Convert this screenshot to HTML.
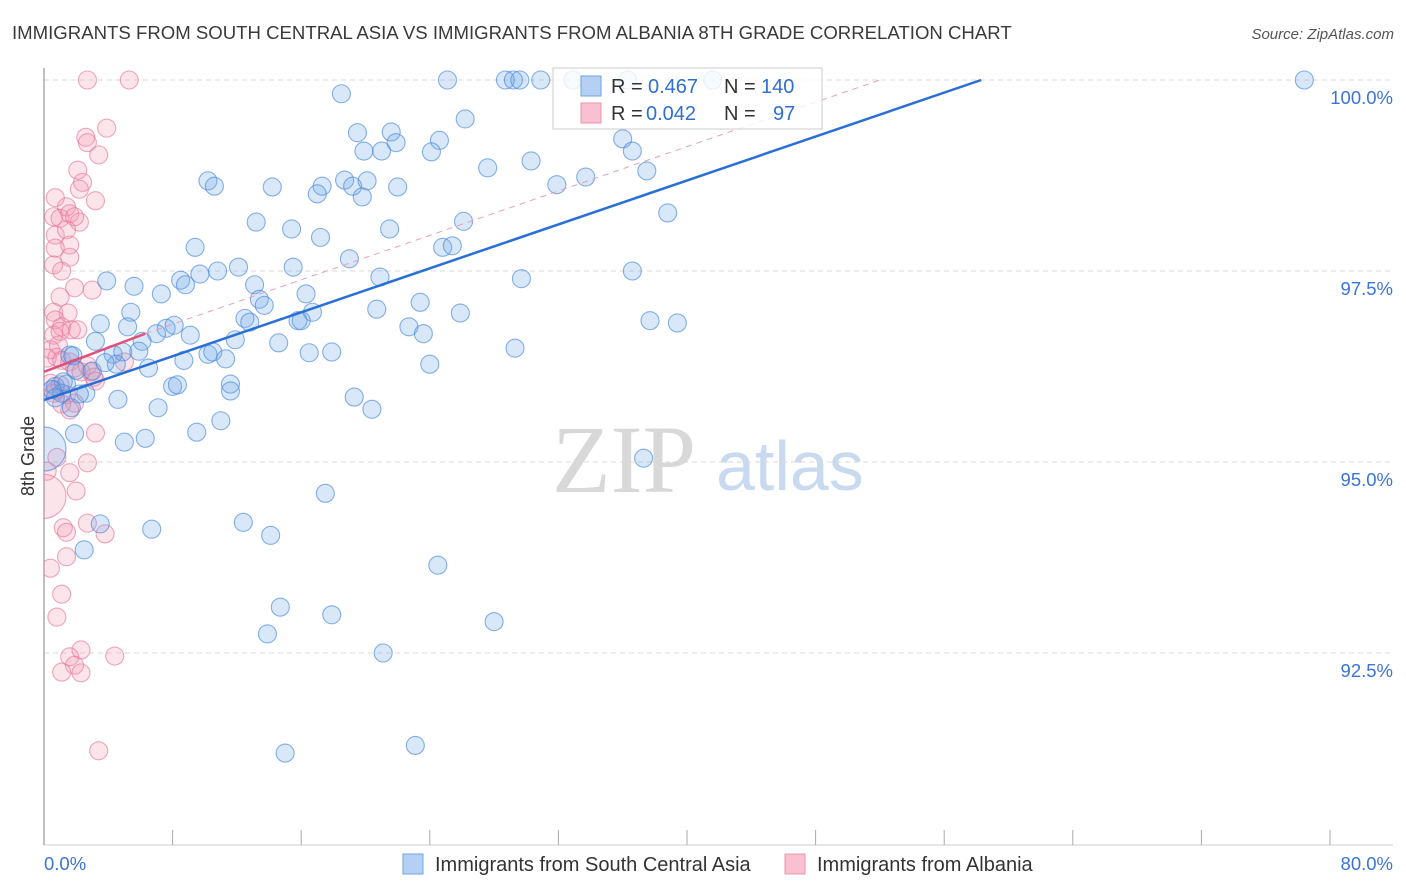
<!DOCTYPE html>
<html><head><meta charset="utf-8">
<style>
body{margin:0;background:#fff;font-family:"Liberation Sans",sans-serif;}
svg{display:block}
</style></head>
<body>
<svg id="chart" width="1406" height="892" xmlns="http://www.w3.org/2000/svg">
<defs><clipPath id="plotclip"><rect x="44" y="60" width="1362" height="790"/></clipPath></defs>
<text x="12" y="39" font-size="18.6" fill="#3a3a3a">IMMIGRANTS FROM SOUTH CENTRAL ASIA VS IMMIGRANTS FROM ALBANIA 8TH GRADE CORRELATION CHART</text>
<text x="1394" y="39" font-size="15" fill="#555" font-style="italic" text-anchor="end">Source: ZipAtlas.com</text>
<g>
<text x="552" y="492" font-size="96" font-family="Liberation Serif,serif" fill="#d8d8d8">ZIP</text>
<text x="716" y="490" font-size="70" fill="#c9daf0">atlas</text>
</g>
<g id="grid"></g>
<g id="axes"></g>
<g id="pink" clip-path="url(#plotclip)"></g>
<g id="blue" clip-path="url(#plotclip)"></g>
<g id="lines"></g>
<g>
<rect x="553" y="68" width="269" height="61" fill="rgba(255,255,255,0.8)" stroke="#ccc"/>
<rect x="581" y="76" width="20" height="20" fill="#b5d0f3" stroke="#6fa3e6"/>
<rect x="581" y="103" width="20" height="20" fill="#f8c0d0" stroke="#ec93ae"/>
<g font-size="20">
<text x="611" y="93" fill="#333">R =</text><text x="648" y="93" fill="#2f6fd0">0.467</text>
<text x="724" y="93" fill="#333">N =</text><text x="761" y="93" fill="#2f6fd0">140</text>
<text x="611" y="120" fill="#333">R =</text><text x="646" y="120" fill="#2f6fd0">0.042</text>
<text x="724" y="120" fill="#333">N =</text><text x="773" y="120" fill="#2f6fd0">97</text>
</g></g>
<g>
<rect x="403" y="854" width="20" height="20" fill="#b5d0f3" stroke="#6fa3e6"/>
<text x="435" y="871" font-size="20" fill="#333">Immigrants from South Central Asia</text>
<rect x="785" y="854" width="20" height="20" fill="#f8c0d0" stroke="#ec93ae"/>
<text x="817" y="871" font-size="20" fill="#333">Immigrants from Albania</text>
</g>
<text x="34" y="456" font-size="18" fill="#333" transform="rotate(-90 34 456)" text-anchor="middle">8th Grade</text>
</svg>
<script>
const yTicks=[100,97.5,95,92.5];
const yTickLabels=["100.0%","97.5%","95.0%","92.5%"];
const xTickVals=[0,8,16,24,32,40,48,56,64,72,80];
const xEndLabels=["0.0%","80.0%"];
const blueX=[25.1,28.7,29.2,29.6,30.9,32.9,36.3,41.6,78.4,18.5,26.2,19.5,21.6,21.9,21.0,19.9,24.6,24.1,36.0,36.6,30.3,27.6,37.5,33.7,31.9,10.2,10.6,14.2,17.3,17.0,18.7,19.2,20.1,19.8,22.0,38.8,26.1,13.2,15.4,17.2,21.5,9.4,24.8,25.4,19.0,12.1,15.5,10.8,9.7,8.5,3.9,5.6,8.8,7.3,13.1,13.4,13.7,20.9,29.7,36.6,16.3,23.4,20.7,16.7,12.5,12.8,15.8,16.0,5.4,5.2,3.5,25.9,22.7,23.6,37.7,39.4,7.6,8.1,7.0,9.1,6.1,3.2,11.9,14.6,16.5,17.9,29.3,24.0,4.3,4.9,5.9,6.5,8.7,10.2,10.5,11.3,1.6,1.8,4.5,3.0,11.6,11.6,8.0,8.3,0.7,1.4,2.6,1.1,2.2,0.7,4.6,1.7,7.1,19.3,20.4,11.0,9.5,6.3,5.0,1.9,37.3,0.0,17.5,3.5,6.7,12.4,14.1,2.5,24.5,14.7,17.9,28.0,13.9,21.1,15.0,23.1,1.2,0.5,2.0,3.8];
const blueY=[100,100,100,100,100,100,100,100,100,99.82,99.49,99.31,99.32,99.18,99.07,99.07,99.21,99.06,99.23,99.07,98.94,98.85,98.81,98.73,98.63,98.68,98.61,98.60,98.61,98.51,98.69,98.61,98.68,98.47,98.60,98.26,98.15,98.14,98.05,97.94,98.05,97.81,97.81,97.83,97.66,97.55,97.55,97.50,97.46,97.38,97.37,97.30,97.32,97.20,97.32,97.13,97.05,97.42,97.40,97.50,97.20,97.09,97.00,96.96,96.88,96.83,96.85,96.85,96.96,96.77,96.81,96.95,96.77,96.68,96.85,96.82,96.75,96.79,96.68,96.66,96.58,96.58,96.60,96.56,96.43,96.44,96.49,96.28,96.41,96.44,96.45,96.23,96.33,96.41,96.44,96.35,96.40,96.39,96.28,96.19,96.02,95.93,95.99,96.01,95.99,96.02,95.90,95.90,95.89,95.84,95.82,95.71,95.71,95.85,95.69,95.54,95.39,95.31,95.26,95.37,95.05,95.17,94.59,94.19,94.12,94.21,94.04,93.85,93.65,93.10,93.00,92.91,92.75,92.50,91.19,91.29,96.05,95.95,96.20,96.30];
const blueBig=[121];
const pinkX=[2.7,5.3,3.9,2.6,2.7,3.4,2.1,0.7,2.4,2.2,3.2,1.4,0.6,1.0,1.6,2.2,1.9,0.7,1.4,1.6,1.6,0.7,0.6,1.1,1.9,3.0,1.0,0.6,1.5,0.7,1.1,0.6,1.0,1.7,2.1,0.4,0.9,0.2,0.8,1.1,1.6,1.9,2.9,3.2,2.3,0.4,0.7,1.4,1.9,1.1,1.6,3.2,0.8,2.7,1.6,0.2,2.0,0.0,2.7,1.2,1.4,3.8,1.4,0.4,1.1,0.8,2.3,1.6,1.9,4.4,1.1,2.3,3.4,5.0,2.7,3.1,1.0,0.6];
const pinkY=[100,100,99.37,99.25,99.18,99.02,98.82,98.46,98.66,98.57,98.42,98.34,98.21,98.19,98.25,98.14,98.21,97.97,98.04,97.84,97.68,97.80,97.58,97.50,97.28,97.25,97.16,96.96,96.95,96.86,96.77,96.66,96.71,96.73,96.73,96.47,96.53,96.36,96.37,96.33,96.31,96.23,96.18,96.06,96.18,96.03,95.94,95.88,95.77,95.76,95.68,95.38,95.06,94.99,94.86,94.88,94.62,94.55,94.20,94.14,94.08,94.06,93.76,93.61,93.27,92.97,92.54,92.45,92.34,92.46,92.25,92.24,91.22,96.31,96.26,96.11,96.01,95.90];
const pinkBig=[57];
const blueTrendX=[0,58.3];
const blueTrendY=[95.81,100];
const pinkSolidX=[0,6.3];
const pinkSolidY=[96.18,96.68];
const pinkDashX=[6.3,52.0];
const pinkDashY=[96.68,100];

const NS="http://www.w3.org/2000/svg";
const X0=44,X1=1330,YT=80,PX1=76.4;
function sx(v){return X0+v*(X1-X0)/80;}
function sy(v){return YT+(100-v)*PX1;}
function mk(tag,attrs,parent){const e=document.createElementNS(NS,tag);for(const k in attrs)e.setAttribute(k,attrs[k]);parent.appendChild(e);return e;}
const grid=document.getElementById('grid');
yTicks.forEach((t,i)=>{
  const l=mk('line',{x1:X0,x2:1393,y1:sy(t),y2:sy(t),stroke:'#d8d8d8','stroke-dasharray':'5,4'},grid);
  
  
  const tx=mk('text',{x:1393,y:sy(t)+24,'font-size':18.5,fill:'#3b74d6','text-anchor':'end'},grid);
  tx.textContent=yTickLabels[i];
  
  
});
const axes=document.getElementById('axes');
const ya=mk('line',{x1:X0,x2:X0,y1:68,y2:845,stroke:'#aaa','stroke-width':1.5},axes);


const xa=mk('line',{x1:X0,x2:1393,y1:845,y2:845,stroke:'#ccc'},axes);


xTickVals.forEach(v=>{
  const t=mk('line',{x1:sx(v),x2:sx(v),y1:830,y2:845,stroke:'#aaa'},axes);
  
  
});
const xl0=mk('text',{x:44,y:870,'font-size':18.5,fill:'#3b74d6'},axes);
xl0.textContent=xEndLabels[0];


const xl1=mk('text',{x:1393,y:870,'font-size':18.5,fill:'#3b74d6','text-anchor':'end'},axes);
xl1.textContent=xEndLabels[1];



function drawPts(g,xs,ys,big,fill,stroke,name){
  xs.forEach((x,i)=>{
    const c=mk('circle',{cx:sx(x),cy:sy(ys[i]),r:big.includes(i)?22:9,fill:fill,stroke:stroke,'stroke-width':1.1},g);
    
    
  });
}
drawPts(document.getElementById('pink'),pinkX,pinkY,pinkBig,'rgba(242,150,178,0.26)','rgba(230,120,155,0.65)','albania-point');
drawPts(document.getElementById('blue'),blueX,blueY,blueBig,'rgba(110,165,232,0.26)','rgba(70,135,220,0.65)','asia-point');
const lines=document.getElementById('lines');
const bl=mk('line',{x1:sx(blueTrendX[0]),y1:sy(blueTrendY[0]),x2:sx(blueTrendX[1]),y2:sy(blueTrendY[1]),stroke:'#2a6fd6','stroke-width':2.5},lines);


const pd=mk('line',{x1:sx(pinkDashX[0]),y1:sy(pinkDashY[0]),x2:sx(pinkDashX[1]),y2:sy(pinkDashY[1]),stroke:'#e8a0b8','stroke-width':1,'stroke-dasharray':'6,5'},lines);


const ps=mk('line',{x1:sx(pinkSolidX[0]),y1:sy(pinkSolidY[0]),x2:sx(pinkSolidX[1]),y2:sy(pinkSolidY[1]),stroke:'#e0507a','stroke-width':2.5},lines);


</script>
</body></html>
